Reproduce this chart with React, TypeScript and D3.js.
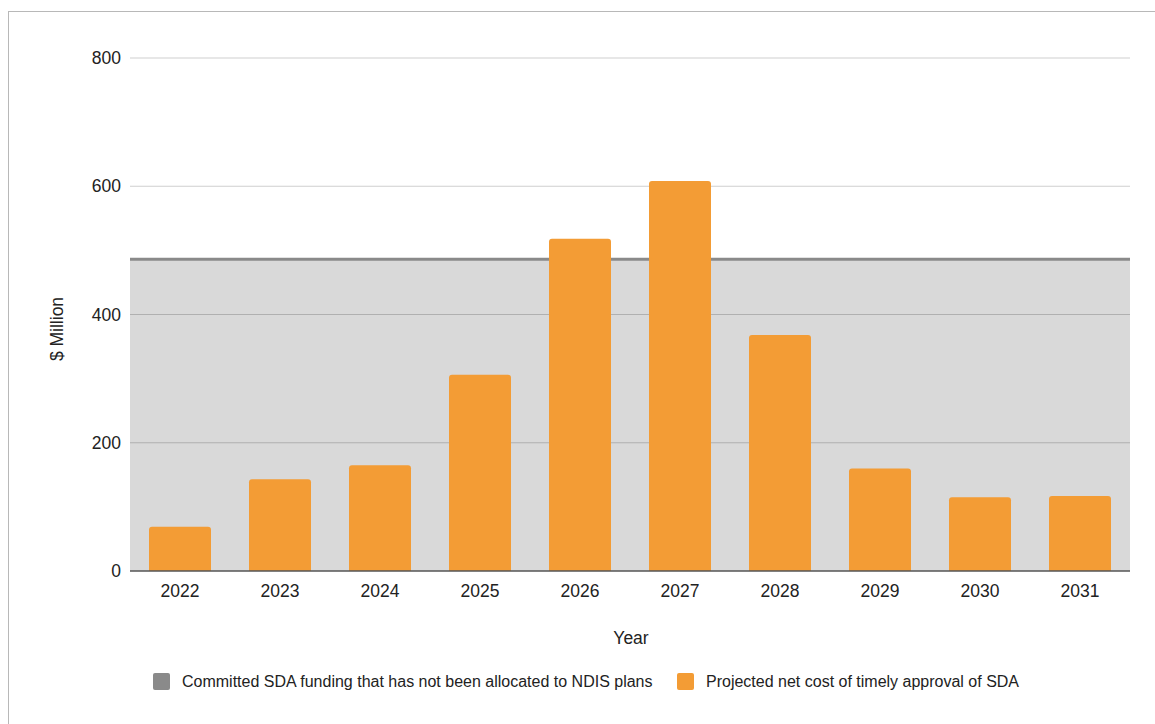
import React from "react";
import * as d3 from "d3";

const years = ["2022", "2023", "2024", "2025", "2026", "2027", "2028", "2029", "2030", "2031"];
const projectedCost = [69, 143, 165, 306, 518, 608, 368, 160, 115, 117];
const committedFunding = 486;
const yTicks = [0, 200, 400, 600, 800];
const seriesNames = [
  "Committed SDA funding that has not been allocated to NDIS plans",
  "Projected net cost of timely approval of SDA",
];
const seriesColors = ["#8a8a8a", "#f39c35"];

const W = 1155;
const H = 724;
const left = 130;
const right = 1130;
const top = 58;
const bottom = 571;
const FONT = "Arial, 'Liberation Sans', sans-serif";

function roundedTopBar(x: number, y: number, w: number, h: number, r: number) {
  const rr = Math.min(r, h / 2, w / 2);
  return `M${x},${y + h}V${y + rr}Q${x},${y} ${x + rr},${y}H${x + w - rr}Q${x + w},${y} ${x + w},${y + rr}V${y + h}Z`;
}

export default function App() {
  const x = d3.scaleBand<string>().domain(years).range([left, right]).paddingInner(0.38).paddingOuter(0.19);
  const y = d3.scaleLinear().domain([0, 800]).range([bottom, top]);
  const yc = y(committedFunding);

  return (
    <svg width={W} height={H} style={{ position: "absolute", left: 0, top: 0 }} fontFamily={FONT}>
      <rect x={0} y={0} width={W} height={H} fill="#fff" />
      <rect x={8.5} y={11.5} width={W + 20} height={H + 20} fill="none" stroke="#b8b8b8" strokeWidth={1} />
      <rect x={left} y={yc} width={right - left} height={bottom - yc} fill="#d9d9d9" />
      {yTicks.filter((t) => t !== 0).map((t) => (
        <line key={t} x1={left} x2={right} y1={y(t)} y2={y(t)} stroke="rgba(0,0,0,0.19)" strokeWidth={1} />
      ))}
      <line x1={left} x2={right} y1={yc} y2={yc} stroke="#8a8a8a" strokeWidth={3} />
      {projectedCost.map((v, i) => (
        <path
          key={years[i]}
          d={roundedTopBar(x(years[i])!, y(v), x.bandwidth(), y(0) - y(v), 3)}
          fill={seriesColors[1]}
        />
      ))}
      <line x1={left} x2={right} y1={bottom} y2={bottom} stroke="#555" strokeWidth={1.5} />
      {yTicks.map((t) => (
        <text key={t} x={121} y={y(t)} dy="0.35em" textAnchor="end" fontSize={17.5} fill="#222">
          {t}
        </text>
      ))}
      {years.map((yr) => (
        <text key={yr} x={x(yr)! + x.bandwidth() / 2} y={597} textAnchor="middle" fontSize={17.5} fill="#222">
          {yr}
        </text>
      ))}
      <text x={631} y={644} textAnchor="middle" fontSize={17.5} fill="#222">
        Year
      </text>
      <text transform={`translate(63,${329}) rotate(-90)`} textAnchor="middle" fontSize={17.5} fill="#222">
        $ Million
      </text>
      <rect x={153} y={673} width={17} height={17} rx={2} fill={seriesColors[0]} />
      <text x={182} y={687} fontSize={16} fill="#222">
        {seriesNames[0]}
      </text>
      <rect x={677} y={673} width={17} height={17} rx={2} fill={seriesColors[1]} />
      <text x={706} y={687} fontSize={16} fill="#222">
        {seriesNames[1]}
      </text>
    </svg>
  );
}
